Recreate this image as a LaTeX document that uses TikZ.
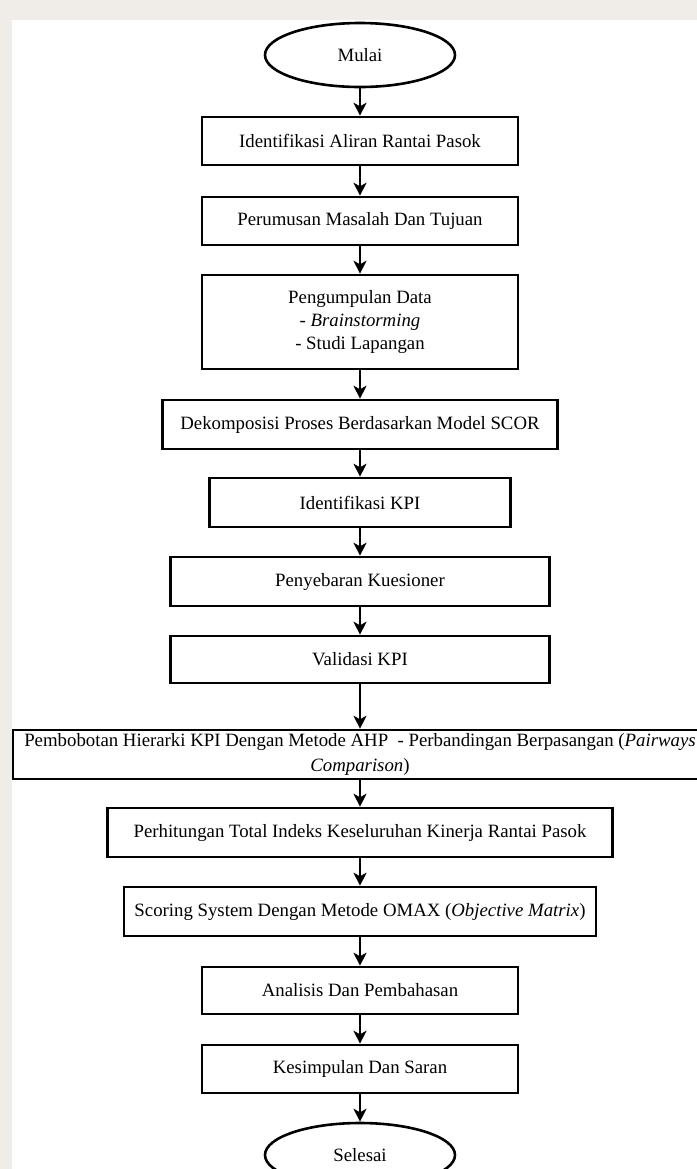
\documentclass[tikz,border=0pt]{standalone}
\usepackage{fontspec}
\setmainfont{Liberation Serif}
\usetikzlibrary{shapes.geometric,arrows.meta}
\definecolor{bgstrip}{RGB}{240,236,231}
\tikzset{
  procbox/.style={draw=black, line width=1.3pt, rectangle, inner sep=0pt, align=center, font=\fontsize{9.4}{11.3}\selectfont},
  termnode/.style={draw=black, line width=1.3pt, ellipse, inner sep=0pt, font=\fontsize{9.4}{11.3}\selectfont, minimum width=95pt, minimum height=32pt},
  flow/.style={draw=black, line width=0.8pt, -{Stealth[length=6.5pt,width=6.5pt,inset=1.8pt]}}
}
\begin{document}
\begin{tikzpicture}[x=0.5pt,y=-0.5pt]
\useasboundingbox (0,0) rectangle (697,1169);
\fill[white] (0,0) rectangle (697,1169);
\fill[bgstrip] (0,0) rectangle (697,20);
\fill[bgstrip] (0,0) rectangle (12,1169);
\node[termnode] (mulai) at (360,55) {Mulai};
\node[procbox, minimum width=158pt, minimum height=24pt] (b1) at (360,141) {Identifikasi Aliran Rantai Pasok};
\node[procbox, minimum width=158pt, minimum height=24pt] (b2) at (360,221) {Perumusan Masalah Dan Tujuan};
\node[procbox, minimum width=158pt, minimum height=47pt] (b3) at (360,322) {Pengumpulan Data\\- \textit{Brainstorming}\\- Studi Lapangan};
\node[procbox, minimum width=197.5pt, minimum height=24.5pt] (b4) at (360,424.5) {Dekomposisi Proses Berdasarkan Model SCOR};
\node[procbox, minimum width=150.5pt, minimum height=24.5pt] (b5) at (360,502.5) {Identifikasi KPI};
\node[procbox, minimum width=189.5pt, minimum height=24.5pt] (b6) at (360,581.5) {Penyebaran Kuesioner};
\node[procbox, minimum width=189.5pt, minimum height=23.5pt] (b7) at (360,659.5) {Validasi KPI};
\node[procbox, minimum width=347pt, minimum height=24.5pt, font=\fontsize{9.4}{12.3}\selectfont] (b8) at (360,754.5) {Pembobotan Hierarki KPI Dengan Metode AHP\ \ - Perbandingan Berpasangan (\textit{Pairways}\\\textit{Comparison})};
\node[procbox, minimum width=252.5pt, minimum height=24.5pt] (b9) at (360,832.5) {Perhitungan Total Indeks Keseluruhan Kinerja Rantai Pasok};
\node[procbox, minimum width=236pt, minimum height=24.5pt] (b10) at (360,911.5) {Scoring System Dengan Metode OMAX (\textit{Objective Matrix})};
\node[procbox, minimum width=158pt, minimum height=23.5pt] (b11) at (360,990.5) {Analisis Dan Pembahasan};
\node[procbox, minimum width=158pt, minimum height=24pt] (b12) at (360,1069) {Kesimpulan Dan Saran};
\node[termnode] (selesai) at (360,1155) {Selesai};
\draw[flow] (mulai.south) -- (b1.north);
\draw[flow] (b1.south) -- (b2.north);
\draw[flow] (b2.south) -- (b3.north);
\draw[flow] (b3.south) -- (b4.north);
\draw[flow] (b4.south) -- (b5.north);
\draw[flow] (b5.south) -- (b6.north);
\draw[flow] (b6.south) -- (b7.north);
\draw[flow] (b7.south) -- (b8.north);
\draw[flow] (b8.south) -- (b9.north);
\draw[flow] (b9.south) -- (b10.north);
\draw[flow] (b10.south) -- (b11.north);
\draw[flow] (b11.south) -- (b12.north);
\draw[flow] (b12.south) -- (selesai.north);
\end{tikzpicture}
\end{document}
